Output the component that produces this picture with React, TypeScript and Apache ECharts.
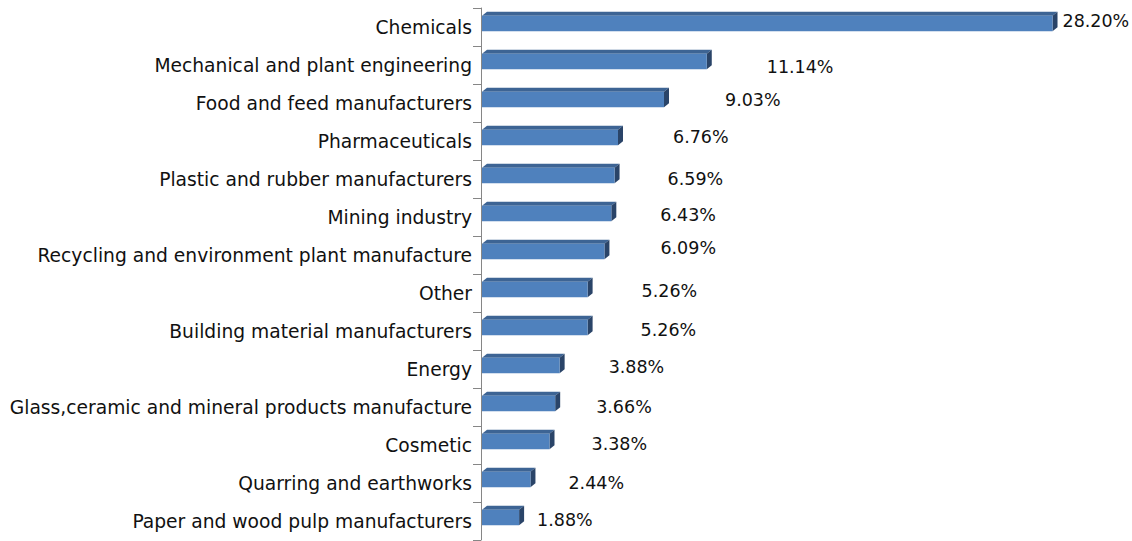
import React, { useEffect, useRef } from "react";
import * as echarts from "echarts";

const categories = [
  "Chemicals",
  "Mechanical and plant engineering",
  "Food and feed manufacturers",
  "Pharmaceuticals",
  "Plastic and rubber manufacturers",
  "Mining industry",
  "Recycling and environment plant manufacture",
  "Other",
  "Building material manufacturers",
  "Energy",
  "Glass,ceramic and mineral products manufacture",
  "Cosmetic",
  "Quarring and earthworks",
  "Paper and wood pulp manufacturers",
];

const shares = [28.2, 11.14, 9.03, 6.76, 6.59, 6.43, 6.09, 5.26, 5.26, 3.88, 3.66, 3.38, 2.44, 1.88];

// horizontal gap (px) between bar end and its value label, and vertical nudge (style only)
const labelGaps = [10, 60, 61, 55, 53, 49, 56, 54, 53, 49, 41, 42, 38, 18];
const labelNudges = [-6, 1.5, -3, -4, 0, -2.5, -7, -2, -1.5, -2, 0, -1, 0, -1.5];

const FONT = "DejaVu Sans";

export default function App() {
  const ref = useRef<HTMLDivElement>(null);

  useEffect(() => {
    if (!ref.current) return;
    const chart = echarts.init(ref.current, undefined, { renderer: "svg" });
    const data = shares.map((v, i) => [v, i]);
    chart.setOption({
      animation: false,
      backgroundColor: "#ffffff",
      grid: { left: 481, right: 43, top: 8, bottom: 1, containLabel: false },
      xAxis: {
        type: "value",
        min: 0,
        max: 30,
        show: false,
      },
      yAxis: {
        type: "category",
        data: categories,
        inverse: true,
        boundaryGap: true,
        axisLine: { show: true, lineStyle: { color: "#868686", width: 1 } },
        axisTick: { show: true, length: 8, inside: false, alignWithLabel: false, lineStyle: { color: "#868686" } },
        axisLabel: {
          margin: 9,
          fontFamily: FONT,
          fontSize: 18.7,
          color: "#111111",
        },
        splitLine: { show: false },
      },
      series: [
        {
          type: "custom",
          data,
          encode: { x: 0, y: 1 },
          renderItem: (params: any, api: any) => {
            const v = api.value(0);
            const idx = api.value(1);
            const s = api.coord([0, idx]);
            const e = api.coord([v, idx]);
            const band = api.size([0, 1])[1];
            const h = band * 0.41;
            const yc = s[1] - 3.5;
            const y0 = yc - h / 2;
            const y1 = yc + h / 2;
            const x0 = s[0] + 1;
            const x1 = e[0];
            const dx = 5;
            const dy = 4;
            return {
              type: "group",
              children: [
                {
                  type: "polygon",
                  shape: { points: [[x0, y0], [x0 + dx, y0 - dy], [x1 + dx, y0 - dy], [x1, y0]] },
                  style: { fill: "#3d6494" },
                },
                {
                  type: "polygon",
                  shape: { points: [[x1, y0], [x1 + dx, y0 - dy], [x1 + dx, y1 - dy], [x1, y1]] },
                  style: { fill: "#2a4468" },
                },
                {
                  type: "rect",
                  shape: { x: x0, y: y0, width: x1 - x0, height: h },
                  style: { fill: "#4f81bd" },
                },
                {
                  type: "text",
                  style: {
                    text: v.toFixed(2) + "%",
                    x: x1 + labelGaps[idx],
                    y: s[1] + labelNudges[idx],
                    verticalAlign: "middle",
                    align: "left",
                    fontFamily: FONT,
                    fontSize: 17.5,
                    fill: "#111111",
                  },
                },
              ],
            };
          },
        },
      ],
    });
    return () => chart.dispose();
  }, []);

  return (
    <div
      ref={ref}
      style={{ position: "fixed", left: 0, top: 0, width: 1132, height: 541, background: "#fff" }}
    />
  );
}
